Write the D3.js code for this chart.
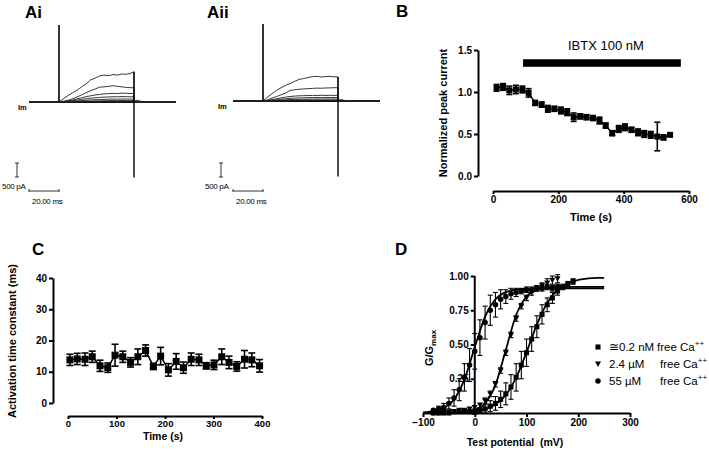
<!DOCTYPE html>
<html><head><meta charset="utf-8">
<script src="https://cdn.jsdelivr.net/npm/d3@7"></script>
<style>
html,body{margin:0;padding:0;background:#fff;}
svg{display:block;font-family:"Liberation Sans",Arial,sans-serif;}
</style></head>
<body>
<svg id="fig" width="709" height="451"></svg>
<script>
// ---------------- DATA ----------------
// Panel A: current traces (pA) sampled at these times (ms) during the step
const timeA = [0,3,6,9,12,15,18,21,24,27,30,33,36,39,42,45,48,50];
const tracesAi = [
  [0,120,230,330,420,540,640,790,850,930,960,940,980,960,1000,990,1030,1080],
  [0,30,60,110,180,250,330,400,460,530,540,560,580,560,540,520,510,510],
  [0,15,40,70,110,150,190,220,250,270,290,300,310,300,320,310,300,310],
  [0,10,25,45,70,95,115,135,150,165,175,180,190,185,195,190,185,190],
  [0,5,12,22,35,50,60,72,80,88,95,100,105,100,108,105,102,105],
  [0,3,6,10,16,22,28,33,38,42,46,50,52,50,54,52,50,52],
  [0,2,3,5,7,9,11,13,15,17,19,20,21,20,22,21,20,21]
];
const tracesAii = [
  [0,140,260,380,470,560,620,700,770,800,840,870,880,860,870,880,860,860],
  [0,40,100,160,220,280,380,400,420,430,440,450,460,455,465,470,475,476],
  [0,20,45,80,110,140,160,175,185,190,195,200,198,202,200,203,200,202],
  [0,10,25,45,65,80,95,105,110,115,120,122,125,123,126,125,124,125],
  [0,5,12,22,33,42,50,56,60,64,66,68,70,69,71,70,70,70],
  [0,3,6,10,15,20,24,27,30,32,33,34,35,34,35,35,35,35]
];
const sweepStart = -20, sweepEnd = 78, pulseEnd = 50;
const spikeUp = 2750, spikeDown = -2700;     // pA, capacitive transients
const scaleBarCurrent = 500, scaleBarTime = 20;
const labelCurrent = "500 pA", labelTime = "20.00 ms";

// Panel B: normalized peak current vs time
const bTime  = [11,31,50,70,90,109,129,149,168,188,208,227,247,267,286,306,326,345,365,385,404,424,444,463,483,503,522,542];
const bValue = [1.05,1.06,1.02,1.03,1.03,0.99,0.87,0.85,0.80,0.80,0.78,0.76,0.70,0.71,0.70,0.69,0.66,0.60,0.51,0.56,0.58,0.55,0.52,0.50,0.49,0.47,0.46,0.49];
const bError = [0.04,0.04,0.05,0.05,0.04,0.05,0.03,0.03,0.04,0.03,0.04,0.04,0.05,0.03,0.03,0.03,0.04,0.03,0.03,0.04,0.04,0.03,0.04,0.04,0.04,0.17,0.03,0.02];
const bTicksY = [0,0.5,1.0,1.5];
const bTicksX = [0,200,400,600];
const ibtxStart = 92, ibtxEnd = 575, ibtxTop = 1.39, ibtxBottom = 1.30;
const ibtxLabel = "IBTX 100 nM";

// Panel C: activation time constant vs time
const cTime  = [4,19,35,50,66,82,97,113,129,144,160,176,191,207,223,238,254,270,285,301,317,332,348,364,379,395];
const cValue = [13.8,14.1,14.0,14.8,11.9,11.3,15.3,14.8,13.0,14.8,16.8,11.7,15.0,10.6,13.3,11.3,14.0,13.8,11.9,12.2,14.8,13.0,11.7,14.0,13.8,11.9];
const cError = [1.8,1.8,2.0,1.8,1.8,1.5,3.5,1.8,1.5,2.5,1.8,1.0,2.8,2.0,2.5,1.8,2.0,1.8,1.0,1.5,2.5,2.0,1.5,2.8,2.2,2.0];
const cTicksY = [0,10,20,30,40];
const cTicksX = [0,100,200,300,400];

// Panel D: G/Gmax vs test potential (mV)
const dVolt = [-80,-70,-60,-50,-40,-30,-20,-10,0,10,20,30,40,50,60,70,80,90,100,110,120,130,140,150,160,170,180,190];
const dSquare    = [0.0,0.0,0.0,0.0,0.01,0.01,0.01,0.01,0.01,0.02,0.03,0.05,0.07,0.10,0.14,0.19,0.26,0.35,0.44,0.54,0.63,0.72,0.79,0.84,0.89,0.92,0.94,0.96];
const dSquareErr = [0.01,0.01,0.01,0.01,0.01,0.01,0.01,0.01,0.02,0.02,0.03,0.04,0.05,0.06,0.08,0.09,0.10,0.10,0.10,0.09,0.08,0.07,0.05,0.04,0.03,0.02,0.02,0.02];
const dTriangle    = [0.0,0.0,0.01,0.01,0.01,0.02,0.02,0.03,0.04,0.06,0.09,0.14,0.21,0.31,0.44,0.57,0.69,0.78,0.84,0.88,0.91,0.93,0.95,0.97,0.98];
const dTriangleErr = [0.01,0.01,0.01,0.01,0.01,0.01,0.01,0.01,0.01,0.01,0.02,0.02,0.02,0.02,0.02,0.02,0.02,0.02,0.02,0.02,0.02,0.02,0.03,0.03,0.03];
const dCircle    = [0.02,0.03,0.04,0.07,0.11,0.17,0.26,0.35,0.45,0.55,0.66,0.75,0.79,0.83,0.85,0.87,0.88,0.89,0.90,0.90,0.91,0.91,0.92,0.91,0.92];
const dCircleErr = [0.01,0.02,0.03,0.04,0.06,0.08,0.10,0.12,0.13,0.13,0.12,0.11,0.09,0.07,0.05,0.04,0.03,0.02,0.02,0.02,0.02,0.02,0.02,0.02,0.02];
// fitted Boltzmann curves at these potentials
const fitVolt = [-100,-80,-60,-40,-20,0,20,40,60,80,100,120,140,160,180,200,220,240,250];
const fitSquare   = [0.0002,0.0004,0.001,0.0024,0.0054,0.012,0.028,0.062,0.132,0.258,0.443,0.645,0.803,0.899,0.948,0.971,0.982,0.986,0.987];
const fitTriangle = [0,0.0001,0.0005,0.0018,0.006,0.021,0.070,0.205,0.46,0.715,0.85,0.899,0.914,0.918,0.92,0.92,0.92,0.92,0.92];
const fitCircle   = [0.004,0.012,0.035,0.098,0.245,0.48,0.703,0.83,0.882,0.90,0.907,0.91,0.91,0.91,0.91,0.91,0.91,0.91,0.91];
const dTicksX = [-100,0,100,200,300];
const dTicksY = [0.25,0.5,0.75,1.0];
const legendLabels = [["\u22450.2 nM","free Ca"],["2.4 \u00b5M","free Ca"],["55 \u00b5M","free Ca"]];

// ---------------- DRAWING ----------------
const svg = d3.select("#fig");
const FONT = '"Liberation Sans",Arial,sans-serif';

function panelLabel(txt, x, y){
  svg.append("text").attr("x",x).attr("y",y).attr("font-size",17).attr("font-weight","bold").text(txt);
}
function styleAxis(g, fs){
  g.selectAll(".domain").attr("stroke","#000").attr("stroke-width",2);
  g.selectAll(".tick line").attr("stroke","#000").attr("stroke-width",2);
  g.selectAll(".tick text").attr("font-size",fs||10).attr("font-weight","bold").attr("font-family",FONT).attr("fill","#000");
}

// ---- Panel A (Ai, Aii)
function drawA(traces, x, y, sb){
  const g = svg.append("g");
  g.append("line").attr("x1",x(sweepStart)).attr("x2",x(sweepEnd)).attr("y1",y(0)).attr("y2",y(0))
    .attr("stroke","#111").attr("stroke-width",2);
  const line = d3.line().x(d=>x(d[0])).y(d=>y(d[1]));
  traces.forEach((tr,i)=>{
    const pts = [[sweepStart,0],[0,0]].concat(timeA.map((t,j)=>[t,tr[j]]));
    pts.push([pulseEnd,0]);
    pts.push([pulseEnd+1.5, tr[tr.length-1]*0.06]);
    pts.push([pulseEnd+5, tr[tr.length-1]*0.02]);
    pts.push([pulseEnd+9,0]);
    pts.push([sweepEnd,0]);
    g.append("path").attr("d",line(pts)).attr("fill","none").attr("stroke","#222").attr("stroke-width",0.9);
  });
  const topEnd = d3.max(traces, tr=>tr[tr.length-1]);
  g.append("line").attr("x1",x(0)).attr("x2",x(0)).attr("y1",y(0)).attr("y2",y(spikeUp)).attr("stroke","#000").attr("stroke-width",1.6);
  g.append("line").attr("x1",x(pulseEnd)).attr("x2",x(pulseEnd)).attr("y1",y(topEnd)).attr("y2",y(spikeDown)).attr("stroke","#000").attr("stroke-width",1.4);
  g.append("text").attr("x",sb.imX).attr("y",y(0)+8).attr("font-size",7.5).attr("font-weight","bold").text("Im");
  const hBar = y(0)-y(scaleBarCurrent);
  const wBar = x(scaleBarTime)-x(0);
  const vb = g.append("g").attr("stroke","#333").attr("stroke-width",1);
  vb.append("line").attr("x1",sb.vx).attr("x2",sb.vx).attr("y1",sb.vy).attr("y2",sb.vy+hBar);
  vb.append("line").attr("x1",sb.vx-2).attr("x2",sb.vx+2).attr("y1",sb.vy).attr("y2",sb.vy);
  vb.append("line").attr("x1",sb.vx-2).attr("x2",sb.vx+2).attr("y1",sb.vy+hBar).attr("y2",sb.vy+hBar);
  vb.append("line").attr("x1",sb.hx).attr("x2",sb.hx+wBar).attr("y1",sb.hy).attr("y2",sb.hy);
  vb.append("line").attr("x1",sb.hx).attr("x2",sb.hx).attr("y1",sb.hy-2).attr("y2",sb.hy+1);
  vb.append("line").attr("x1",sb.hx+wBar).attr("x2",sb.hx+wBar).attr("y1",sb.hy-2).attr("y2",sb.hy+1);
  g.append("text").attr("x",sb.lx).attr("y",189).attr("font-size",8).attr("letter-spacing",-0.3).text(labelCurrent);
  g.append("text").attr("x",sb.hx+3).attr("y",204).attr("font-size",8).attr("letter-spacing",-0.3).text(labelTime);
}
const xA1 = d3.scaleLinear().domain([sweepStart,sweepEnd]).range([29,176]);
const yA1 = d3.scaleLinear().domain([0,500]).range([102,88]);
drawA(tracesAi, xA1, yA1, {imX:18, vx:17, vy:163, hx:29, hy:191, lx:2});
const xA2 = d3.scaleLinear().domain([sweepStart,sweepEnd]).range([233,380]);
const yA2 = d3.scaleLinear().domain([0,500]).range([101,87]);
drawA(tracesAii, xA2, yA2, {imX:218, vx:221, vy:163, hx:233, hy:191, lx:205});
panelLabel("Ai",25,18);
panelLabel("Aii",207,18);

// ---- Panel B
{
  const x = d3.scaleLinear().domain([0,600]).range([493,689]);
  const y = d3.scaleLinear().domain([0,1.5]).range([176,50]);
  const ga = svg.append("g").attr("transform","translate(478,0)")
    .call(d3.axisLeft(y).tickValues(bTicksY).tickFormat(d3.format(".1f")).tickSize(4).tickSizeOuter(0).tickPadding(2));
  styleAxis(ga);
  const gb = svg.append("g").attr("transform","translate(0,191)")
    .call(d3.axisBottom(x).tickValues(bTicksX).tickFormat(d3.format("d")).tickSize(3).tickSizeOuter(0).tickPadding(2));
  styleAxis(gb);
  svg.append("rect").attr("x",x(ibtxStart)).attr("y",y(ibtxTop)).attr("width",x(ibtxEnd)-x(ibtxStart)).attr("height",y(ibtxBottom)-y(ibtxTop)).attr("fill","#000");
  svg.append("text").attr("x",x((ibtxStart+ibtxEnd)/2)+4).attr("y",50).attr("text-anchor","middle").attr("font-size",13).text(ibtxLabel);
  const pts = bTime.map((t,i)=>({t, v:bValue[i], e:bError[i]}));
  const eb = svg.append("g").attr("stroke","#000").attr("stroke-width",1.6);
  pts.forEach(p=>{
    eb.append("line").attr("x1",x(p.t)).attr("x2",x(p.t)).attr("y1",y(p.v-p.e)).attr("y2",y(p.v+p.e));
    [p.v-p.e,p.v+p.e].forEach(v=>eb.append("line").attr("x1",x(p.t)-3).attr("x2",x(p.t)+3).attr("y1",y(v)).attr("y2",y(v)));
  });
  svg.append("path").attr("d",d3.line().x(p=>x(p.t)).y(p=>y(p.v))(pts)).attr("fill","none").attr("stroke","#000").attr("stroke-width",1.5);
  svg.append("g").selectAll("rect").data(pts).join("rect")
    .attr("x",p=>x(p.t)-3).attr("y",p=>y(p.v)-3).attr("width",6).attr("height",6).attr("fill","#000");
  svg.append("text").attr("transform","translate(447,113) rotate(-90)").attr("text-anchor","middle")
    .attr("font-size",11).attr("font-weight","bold").text("Normalized peak current");
  svg.append("text").attr("x",591).attr("y",221).attr("text-anchor","middle").attr("font-size",11).attr("font-weight","bold").text("Time (s)");
  panelLabel("B",396,17);
}

// ---- Panel C
{
  const x = d3.scaleLinear().domain([0,400]).range([68,262]);
  const y = d3.scaleLinear().domain([0,40]).range([403,278]);
  const ga = svg.append("g").attr("transform","translate(53,0)")
    .call(d3.axisLeft(y).tickValues(cTicksY).tickFormat(d3.format("d")).tickSize(4).tickSizeOuter(0).tickPadding(2));
  styleAxis(ga);
  const gb = svg.append("g").attr("transform","translate(0,416)")
    .call(d3.axisBottom(x).tickValues(cTicksX).tickFormat(d3.format("d")).tickSize(3).tickSizeOuter(0).tickPadding(1));
  styleAxis(gb, 9.5);
  const pts = cTime.map((t,i)=>({t, v:cValue[i], e:cError[i]}));
  const eb = svg.append("g").attr("stroke","#000").attr("stroke-width",1.6);
  pts.forEach(p=>{
    eb.append("line").attr("x1",x(p.t)).attr("x2",x(p.t)).attr("y1",y(p.v-p.e)).attr("y2",y(p.v+p.e));
    [p.v-p.e,p.v+p.e].forEach(v=>eb.append("line").attr("x1",x(p.t)-3.5).attr("x2",x(p.t)+3.5).attr("y1",y(v)).attr("y2",y(v)));
  });
  svg.append("path").attr("d",d3.line().x(p=>x(p.t)).y(p=>y(p.v))(pts)).attr("fill","none").attr("stroke","#000").attr("stroke-width",1.5);
  svg.append("g").selectAll("rect").data(pts).join("rect")
    .attr("x",p=>x(p.t)-3.5).attr("y",p=>y(p.v)-3.5).attr("width",7).attr("height",7).attr("fill","#000");
  svg.append("text").attr("transform","translate(16,341) rotate(-90)").attr("text-anchor","middle")
    .attr("font-size",11).attr("font-weight","bold").text("Activation time constant (ms)");
  svg.append("text").attr("x",163).attr("y",440).attr("text-anchor","middle").attr("font-size",10.5).attr("font-weight","bold").text("Time (s)");
  panelLabel("C",32,255);
}

// ---- Panel D
{
  const x = d3.scaleLinear().domain([-100,300]).range([423,630]);
  const y = d3.scaleLinear().domain([0,1]).range([413,276]);
  const ga = svg.append("g").attr("transform",`translate(${x(0)},0)`)
    .call(d3.axisLeft(y).tickValues(dTicksY).tickFormat(d3.format(".2f")).tickSize(4).tickSizeOuter(0).tickPadding(2));
  styleAxis(ga);
  ga.select(".domain").attr("d",`M0,${y(1)}V${y(0)}`);
  const gb = svg.append("g").attr("transform",`translate(0,${y(0)})`)
    .call(d3.axisBottom(x).tickValues(dTicksX).tickFormat(d3.format("d")).tickSize(4).tickSizeOuter(0).tickPadding(2));
  styleAxis(gb);
  const series = [
    {v:dSquare, e:dSquareErr, fit:fitSquare, sym:d3.symbolSquare, size:26},
    {v:dTriangle, e:dTriangleErr, fit:fitTriangle, sym:"tri", size:30},
    {v:dCircle, e:dCircleErr, fit:fitCircle, sym:d3.symbolCircle, size:24}
  ];
  const eb = svg.append("g").attr("stroke","#000").attr("stroke-width",1.1);
  series.forEach(s=>{
    s.v.forEach((v,i)=>{
      const xv = x(dVolt[i]), e = s.e[i];
      if (e < 0.015) return;
      eb.append("line").attr("x1",xv).attr("x2",xv).attr("y1",y(v-e)).attr("y2",y(v+e));
      [v-e,v+e].forEach(w=>eb.append("line").attr("x1",xv-2.5).attr("x2",xv+2.5).attr("y1",y(w)).attr("y2",y(w)));
    });
  });
  const fl = d3.line().x((d,i)=>x(fitVolt[i])).y(d=>y(d)).curve(d3.curveMonotoneX);
  series.forEach(s=>{
    svg.append("path").attr("d",fl(s.fit)).attr("fill","none").attr("stroke","#000").attr("stroke-width",1.8);
  });
  const triPath = (cx,cy,r)=>`M${cx-r},${cy-r*0.8}L${cx+r},${cy-r*0.8}L${cx},${cy+r}Z`;
  function marker(g, s, cx, cy){
    if (s.sym==="tri") g.append("path").attr("d",triPath(cx,cy,3)).attr("fill","#000");
    else g.append("path").attr("d",d3.symbol().type(s.sym).size(s.size)()).attr("transform",`translate(${cx},${cy})`).attr("fill","#000");
  }
  const mg = svg.append("g");
  series.forEach(s=>s.v.forEach((v,i)=>marker(mg, s, x(dVolt[i]), y(v))));
  legendLabels.forEach((lab,i)=>{
    const ly = 347 + i*17;
    marker(svg, series[i], 598, ly);
    const t = svg.append("text").attr("x",609).attr("y",ly+4).attr("font-size",11.5);
    t.append("tspan").text(lab[0]);
    t.append("tspan").attr("x", i===0?657:660).text(lab[1]);
    t.append("tspan").attr("dy",-5).attr("font-size",8).text("++");
  });
  const yl = svg.append("text").attr("transform","translate(433,348) rotate(-90)").attr("text-anchor","middle")
    .attr("font-size",11).attr("font-weight","bold");
  yl.append("tspan").text("G/G");
  yl.append("tspan").attr("dy",3).attr("font-size",8).text("max");
  svg.append("text").attr("x",515).attr("y",446).attr("text-anchor","middle").attr("font-size",10.5).attr("font-weight","bold")
    .attr("xml:space","preserve").text("Test potential  (mV)");
  panelLabel("D",395,255);
}
</script>
</body></html>
